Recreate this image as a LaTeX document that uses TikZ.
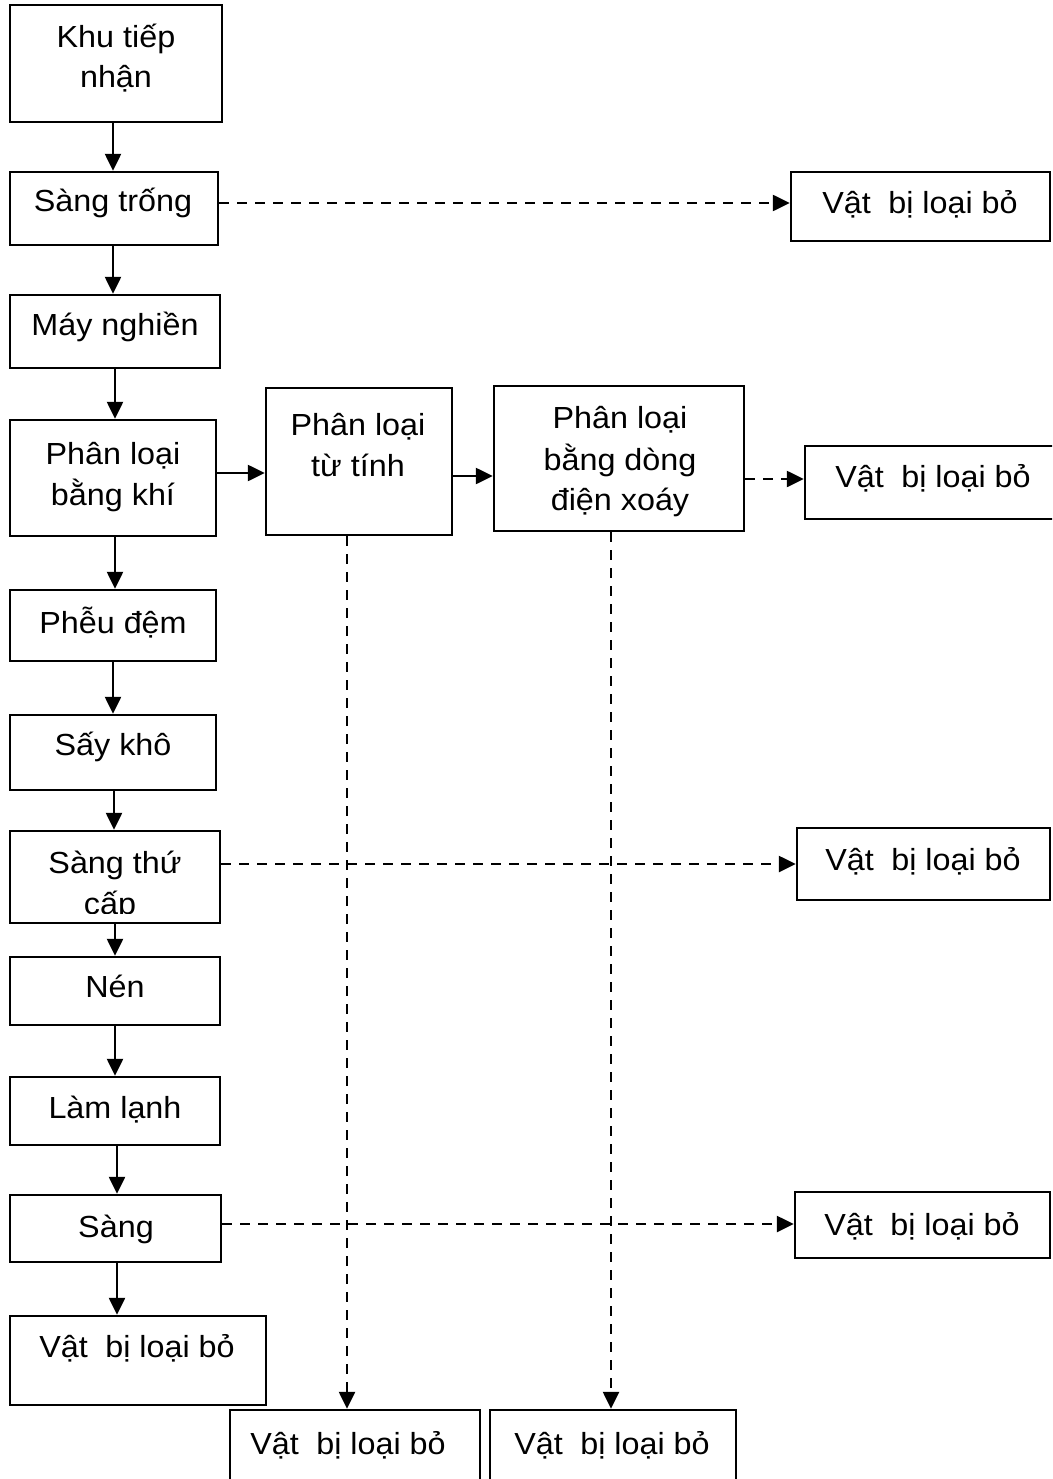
\documentclass[tikz,border=0pt]{standalone}
\usepackage{fontspec}
\setmainfont{Liberation Sans}[FakeStretch=1.06]
\usetikzlibrary{arrows.meta}
\begin{document}
\begin{tikzpicture}[x=1pt,y=-1pt,
  box/.style={draw, line width=2.4pt, rectangle, inner sep=0pt},
  lbl/.style={anchor=base, inner sep=0pt, font=\fontsize{30.5}{41}\selectfont},
  arr/.style={line width=2.4pt, -{Triangle[length=17pt,width=16pt]}},
  darr/.style={arr, dash pattern=on 10pt off 8pt},
]
\useasboundingbox (0,0) rectangle (1052,1479);
\clip (0,0) rectangle (1052,1479);

% main column
\node[box, minimum width=212pt, minimum height=117pt] (khu)   at (116,63.5)   {};
\node[box, minimum width=208pt, minimum height=73pt]  (strong) at (114,208.5) {};
\node[box, minimum width=210pt, minimum height=73pt]  (may)   at (115,331.5)  {};
\node[box, minimum width=206pt, minimum height=116pt] (khi)   at (113,478)    {};
\node[box, minimum width=206pt, minimum height=71pt]  (pheu)  at (113,625.5)  {};
\node[box, minimum width=206pt, minimum height=75pt]  (say)   at (113,752.5)  {};
\node[box, minimum width=210pt, minimum height=92pt]  (stc)   at (115,877)    {};
\node[box, minimum width=210pt, minimum height=68pt]  (nen)   at (115,991)    {};
\node[box, minimum width=210pt, minimum height=68pt]  (lam)   at (115,1111)   {};
\node[box, minimum width=211pt, minimum height=67pt]  (sang)  at (115.5,1228.5) {};
\node[box, minimum width=256pt, minimum height=89pt]  (out0)  at (138,1360.5)  {};

% separator row
\node[box, minimum width=186pt, minimum height=147pt] (tutinh) at (359,461.5) {};
\node[box, minimum width=250pt, minimum height=145pt] (dong)   at (619,458.5) {};

% reject boxes
\node[box, minimum width=259pt, minimum height=69pt] (r1) at (920.5,206.5) {};
\node[box, minimum width=255pt, minimum height=73pt] (r2) at (932.5,482.5) {};
\node[box, minimum width=253pt, minimum height=72pt] (r3) at (923.5,864)   {};
\node[box, minimum width=255pt, minimum height=66pt] (r4) at (922.5,1225)  {};
\node[box, minimum width=250pt, minimum height=90pt] (b1) at (355,1455)    {};
\node[box, minimum width=246pt, minimum height=90pt] (b2) at (613,1455)    {};

% labels
\node[lbl] (t1a) at (116,48)  {Khu tiếp};
\node[lbl] (t1b) at (116,88)  {nhận};
\node[lbl] (t2)  at (113,212) {Sàng trống};
\node[lbl] (t3)  at (115,335) {Máy nghiền};
\node[lbl] (t4a) at (113,464) {Phân loại};
\node[lbl] (t4b) at (113,505) {bằng khí};
\node[lbl] (t5a) at (358,435) {Phân loại};
\node[lbl] (t5b) at (358,476) {từ tính};
\node[lbl] (t6a) at (620,428) {Phân loại};
\node[lbl] (t6b) at (620,470) {bằng dòng};
\node[lbl] (t6c) at (620,510) {điện xoáy};
\node[lbl] (t7)  at (113,633) {Phễu đệm};
\node[lbl] (t8)  at (113,755) {Sấy khô};
\node[lbl] (t9a) at (115,873) {Sàng thứ};
\begin{scope}
  \clip (10,831) rectangle (220,913);
  \node[lbl] (t9b) at (110,914) {cấp};
\end{scope}
\node[lbl] (t10) at (115,997)  {Nén};
\node[lbl] (t11) at (115,1118) {Làm lạnh};
\node[lbl] (t12) at (116,1237) {Sàng};
\node[lbl] (t13) at (137,1357) {Vật\hspace{0.28em} bị loại bỏ};
\node[lbl] (t14) at (348,1454) {Vật\hspace{0.28em} bị loại bỏ};
\node[lbl] (t15) at (612,1454) {Vật\hspace{0.28em} bị loại bỏ};
\node[lbl] (t16) at (920,214)  {Vật\hspace{0.28em} bị loại bỏ};
\node[lbl] (t17) at (933,487)  {Vật\hspace{0.28em} bị loại bỏ};
\node[lbl] (t18) at (923,870)  {Vật\hspace{0.28em} bị loại bỏ};
\node[lbl] (t19) at (922,1235) {Vật\hspace{0.28em} bị loại bỏ};

% columns of the vertical connectors
\coordinate (c1)  at (113,0);
\coordinate (c2)  at (113,0);
\coordinate (c3)  at (115,0);
\coordinate (c4)  at (115,0);
\coordinate (c5)  at (113,0);
\coordinate (c6)  at (114,0);
\coordinate (c7)  at (115,0);
\coordinate (c8)  at (115,0);
\coordinate (c9)  at (117,0);
\coordinate (c10) at (117,0);

% main flow
\draw[arr] (khu.south -| c1)    -- (strong.north -| c1);
\draw[arr] (strong.south -| c2) -- (may.north -| c2);
\draw[arr] (may.south -| c3)    -- (khi.north -| c3);
\draw[arr] (khi.south -| c4)    -- (pheu.north -| c4);
\draw[arr] (pheu.south -| c5)   -- (say.north -| c5);
\draw[arr] (say.south -| c6)    -- (stc.north -| c6);
\draw[arr] (stc.south -| c7)    -- (nen.north -| c7);
\draw[arr] (nen.south -| c8)    -- (lam.north -| c8);
\draw[arr] (lam.south -| c9)    -- (sang.north -| c9);
\draw[arr] (sang.south -| c10)  -- (out0.north -| c10);

% row levels and drop lines
\coordinate (h1) at (0,473);
\coordinate (h2) at (0,476);
\coordinate (h3) at (0,479);
\coordinate (h4) at (0,203);
\coordinate (h5) at (0,864);
\coordinate (h6) at (0,1224);
\coordinate (v1) at (347,0);
\coordinate (v2) at (611,0);

\draw[arr]  (khi.east |- h1)    -- (tutinh.west |- h1);
\draw[arr]  (tutinh.east |- h2) -- (dong.west |- h2);
\draw[darr] (dong.east |- h3)   -- (r2.west |- h3);
\draw[darr] (strong.east |- h4) -- (r1.west |- h4);
\draw[darr] (stc.east |- h5)    -- (r3.west |- h5);
\draw[darr] (sang.east |- h6)   -- (r4.west |- h6);
\draw[darr] (tutinh.south -| v1) -- (b1.north -| v1);
\draw[darr] (dong.south -| v2)   -- (b2.north -| v2);
\end{tikzpicture}
\end{document}
